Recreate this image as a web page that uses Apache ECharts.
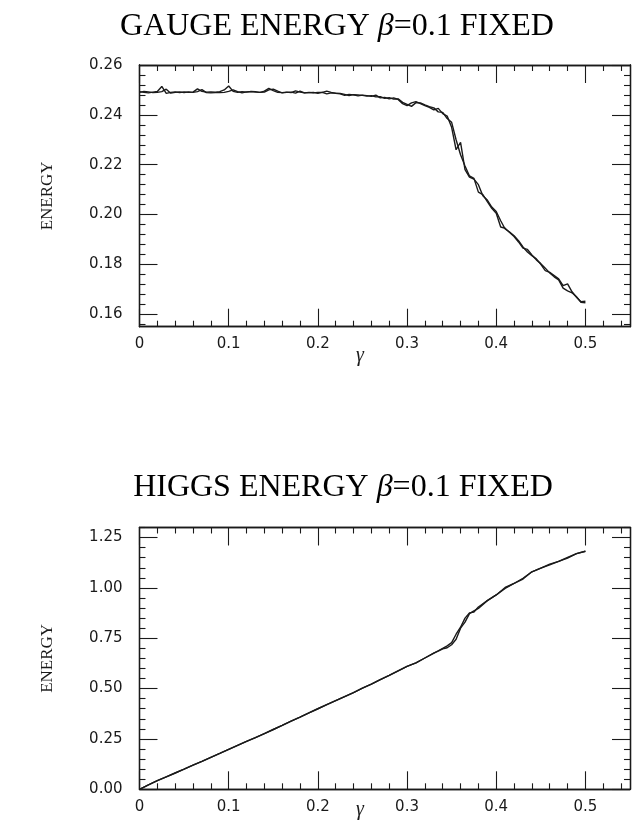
<!DOCTYPE html>
<html>
<head>
<meta charset="utf-8">
<script src="https://cdn.jsdelivr.net/npm/echarts@6/dist/echarts.min.js"></script>
<style>
  html, body { margin: 0; padding: 0; background: #fff; }
  #c { width: 635px; height: 836px; }
</style>
</head>
<body>
<div id="c"></div>
<script>
// ---- Gauge energy at beta = 0.1, two runs over gamma ----
const gaugeGamma = [
  0.000, 0.005, 0.010, 0.015, 0.020, 0.025, 0.030, 0.035, 0.040, 0.045,
  0.050, 0.055, 0.060, 0.065, 0.070, 0.075, 0.080, 0.085, 0.090, 0.095,
  0.100, 0.105, 0.110, 0.115, 0.120, 0.125, 0.130, 0.135, 0.140, 0.145,
  0.150, 0.155, 0.160, 0.165, 0.170, 0.175, 0.180, 0.185, 0.190, 0.195,
  0.200, 0.205, 0.210, 0.215, 0.220, 0.225, 0.230, 0.235, 0.240, 0.245,
  0.250, 0.255, 0.260, 0.265, 0.270, 0.275, 0.280, 0.285, 0.290, 0.295,
  0.300, 0.305, 0.310, 0.315, 0.320, 0.325, 0.330, 0.335, 0.340, 0.345,
  0.350, 0.355, 0.360, 0.365, 0.370, 0.375, 0.380, 0.385, 0.390, 0.395,
  0.400, 0.405, 0.410, 0.415, 0.420, 0.425, 0.430, 0.435, 0.440, 0.445,
  0.450, 0.455, 0.460, 0.465, 0.470, 0.475, 0.480, 0.485, 0.490, 0.495,
  0.500
];
const gaugeRunA = [
  0.2493, 0.2490, 0.2488, 0.2491, 0.2494, 0.2514, 0.2486, 0.2490, 0.2492, 0.2489,
  0.2492, 0.2490, 0.2491, 0.2504, 0.2494, 0.2491, 0.2492, 0.2491, 0.2493, 0.2500,
  0.2516, 0.2494, 0.2490, 0.2493, 0.2491, 0.2494, 0.2493, 0.2490, 0.2495, 0.2506,
  0.2497, 0.2490, 0.2489, 0.2491, 0.2489, 0.2496, 0.2491, 0.2488, 0.2490, 0.2488,
  0.2490, 0.2490, 0.2495, 0.2490, 0.2486, 0.2484, 0.2478, 0.2482, 0.2480, 0.2476,
  0.2479, 0.2477, 0.2474, 0.2479, 0.2468, 0.2470, 0.2464, 0.2468, 0.2462, 0.2445,
  0.2437, 0.2448, 0.2453, 0.2445, 0.2437, 0.2430, 0.2420, 0.2426, 0.2405, 0.2395,
  0.2350, 0.2260, 0.2290, 0.2180, 0.2150, 0.2142, 0.2120, 0.2075, 0.2058, 0.2030,
  0.2012, 0.1975, 0.1942, 0.1930, 0.1915, 0.1895, 0.1870, 0.1850, 0.1835, 0.1822,
  0.1800, 0.1775, 0.1768, 0.1755, 0.1742, 0.1715, 0.1722, 0.1690, 0.1668, 0.1650,
  0.1652
];
const gaugeRunB = [
  0.2490, 0.2494, 0.2492, 0.2489, 0.2490, 0.2493, 0.2503, 0.2487, 0.2490, 0.2492,
  0.2489, 0.2492, 0.2490, 0.2493, 0.2501, 0.2489, 0.2488, 0.2489, 0.2489, 0.2490,
  0.2494, 0.2500, 0.2493, 0.2488, 0.2492, 0.2493, 0.2491, 0.2490, 0.2491, 0.2500,
  0.2503, 0.2495, 0.2488, 0.2490, 0.2491, 0.2487, 0.2495, 0.2488, 0.2489, 0.2490,
  0.2486, 0.2490, 0.2484, 0.2488, 0.2487, 0.2486, 0.2482, 0.2477, 0.2481, 0.2480,
  0.2478, 0.2475, 0.2477, 0.2472, 0.2473, 0.2466, 0.2469, 0.2463, 0.2464, 0.2450,
  0.2442, 0.2434, 0.2449, 0.2448, 0.2440, 0.2433, 0.2428, 0.2412, 0.2410, 0.2385,
  0.2370, 0.2300, 0.2240, 0.2195, 0.2155, 0.2145, 0.2090, 0.2080, 0.2052, 0.2025,
  0.2005, 0.1950, 0.1945, 0.1928, 0.1912, 0.1890, 0.1865, 0.1860, 0.1838, 0.1818,
  0.1803, 0.1785, 0.1766, 0.1750, 0.1738, 0.1705, 0.1694, 0.1686, 0.1670, 0.1648,
  0.1646
];

// ---- Higgs energy at beta = 0.1, two runs over gamma ----
const higgsGamma = [
  0.00, 0.01, 0.02, 0.03, 0.04, 0.05, 0.06, 0.07, 0.08, 0.09,
  0.10, 0.11, 0.12, 0.13, 0.14, 0.15, 0.16, 0.17, 0.18, 0.19,
  0.20, 0.21, 0.22, 0.23, 0.24, 0.25, 0.26, 0.27, 0.28, 0.29,
  0.30, 0.31, 0.32, 0.33, 0.335, 0.34, 0.345, 0.35, 0.355, 0.36,
  0.365, 0.37, 0.375, 0.38, 0.39, 0.40, 0.41, 0.42, 0.43, 0.44,
  0.45, 0.46, 0.47, 0.48, 0.49, 0.50
];
const higgsRunA = [
  0.000, 0.022, 0.043, 0.062, 0.081, 0.100, 0.120, 0.139, 0.159, 0.178,
  0.198, 0.218, 0.238, 0.257, 0.277, 0.297, 0.317, 0.338, 0.358, 0.379,
  0.400, 0.420, 0.440, 0.460, 0.480, 0.502, 0.522, 0.545, 0.566, 0.588,
  0.610, 0.628, 0.652, 0.676, 0.688, 0.700, 0.712, 0.728, 0.770, 0.805,
  0.850, 0.876, 0.880, 0.905, 0.937, 0.965, 0.998, 1.022, 1.048, 1.080,
  1.098, 1.114, 1.132, 1.148, 1.170, 1.182
];
const higgsRunB = [
  0.000, 0.022, 0.043, 0.062, 0.081, 0.100, 0.120, 0.139, 0.159, 0.178,
  0.198, 0.218, 0.238, 0.257, 0.277, 0.297, 0.317, 0.338, 0.358, 0.379,
  0.400, 0.420, 0.440, 0.460, 0.480, 0.502, 0.522, 0.545, 0.566, 0.588,
  0.610, 0.628, 0.652, 0.676, 0.686, 0.697, 0.703, 0.718, 0.745, 0.800,
  0.830, 0.872, 0.886, 0.898, 0.937, 0.965, 1.002, 1.022, 1.044, 1.080,
  1.098, 1.118, 1.132, 1.152, 1.170, 1.182
];

// ---- Tick positions and labels ----
const gammaMajor = [0, 0.1, 0.2, 0.3, 0.4, 0.5];
const gammaMajorLabels = ['0', '0.1', '0.2', '0.3', '0.4', '0.5'];
const gammaMinor = [0.02, 0.04, 0.06, 0.08, 0.12, 0.14, 0.16, 0.18, 0.22, 0.24, 0.26, 0.28,
                    0.32, 0.34, 0.36, 0.38, 0.42, 0.44, 0.46, 0.48, 0.52, 0.54];

const gaugeMajor = [0.16, 0.18, 0.20, 0.22, 0.24, 0.26];
const gaugeMajorLabels = ['0.16', '0.18', '0.20', '0.22', '0.24', '0.26'];
const gaugeMinor = [0.156, 0.164, 0.168, 0.172, 0.176, 0.184, 0.188, 0.192, 0.196,
                    0.204, 0.208, 0.212, 0.216, 0.224, 0.228, 0.232, 0.236,
                    0.244, 0.248, 0.252, 0.256];

const higgsMajor = [0, 0.25, 0.5, 0.75, 1.0, 1.25];
const higgsMajorLabels = ['0.00', '0.25', '0.50', '0.75', '1.00', '1.25'];
const higgsMinor = [0.05, 0.10, 0.15, 0.20, 0.30, 0.35, 0.40, 0.45, 0.55, 0.60, 0.65, 0.70,
                    0.80, 0.85, 0.90, 0.95, 1.05, 1.10, 1.15, 1.20, 1.30];

// ---- Styling helpers ----
const INK = '#1a1a1a';
const LABEL_FONT = 'DejaVu Sans';
const SERIF = '"Liberation Serif", "DejaVu Serif", serif';

function labelFor(values, labels) {
  return function (v) {
    for (let i = 0; i < values.length; i++) {
      if (Math.abs(values[i] - v) < 1e-9) return labels[i];
    }
    return '';
  };
}

// A framed axis set: major ticks (long) and minor ticks (short) on both sides,
// all pointing into the plot. Order matters: ECharts assigns the second axis
// asking for an occupied side to the opposite side.
function axisSet(dim, gridIndex, min, max, major, majorLabels, minor, name, labelMargin) {
  const sides = dim === 'x' ? ['bottom', 'top'] : ['left', 'right'];
  const base = {
    type: 'value', gridIndex: gridIndex, min: min, max: max,
    splitLine: { show: false },
    axisLine: { show: true, onZero: false, lineStyle: { color: INK, width: 1.3 } }
  };
  const tick = (vals, len) => ({
    show: true, inside: true, length: len, customValues: vals,
    lineStyle: { color: INK, width: 1.1 }
  });
  const labelled = Object.assign({}, base, {
    position: sides[0],
    axisTick: tick(major, 18),
    axisLabel: {
      show: true, customValues: major, formatter: labelFor(major, majorLabels),
      margin: labelMargin, color: INK, fontFamily: LABEL_FONT, fontSize: 15
    }
  });
  if (name) {
    Object.assign(labelled, {
      name: name, nameLocation: 'middle', nameRotate: 90, nameGap: 83,
      nameTextStyle: { fontFamily: SERIF, fontSize: 17, color: INK }
    });
  }
  return [
    labelled,
    Object.assign({}, base, { position: sides[1], axisTick: tick(major, 18), axisLabel: { show: false } }),
    Object.assign({}, base, { position: sides[0], axisTick: tick(minor, 6), axisLabel: { show: false } }),
    Object.assign({}, base, { position: sides[1], axisTick: tick(minor, 6), axisLabel: { show: false } })
  ];
}

function runSeries(xs, ys, xIdx, yIdx) {
  return {
    type: 'line', xAxisIndex: xIdx, yAxisIndex: yIdx,
    data: xs.map((g, i) => [g, ys[i]]),
    showSymbol: false, symbol: 'none', smooth: false,
    lineStyle: { color: INK, width: 1.4 },
    silent: true
  };
}

const titleRich = {
  a: { fontFamily: SERIF, fontSize: 32, color: INK },
  b: { fontFamily: SERIF, fontSize: 32, fontStyle: 'italic', color: INK }
};

function titleText(text, cx, cy) {
  return {
    type: 'text', x: cx, y: cy,
    style: { text: text, rich: titleRich, align: 'center', verticalAlign: 'middle' }
  };
}

function gammaName(cx, cy) {
  return {
    type: 'text', x: cx, y: cy,
    style: { text: 'γ', fontFamily: SERIF, fontStyle: 'italic', fontSize: 20, fill: INK,
             align: 'center', verticalAlign: 'middle' }
  };
}

const chart = echarts.init(document.getElementById('c'), null, { renderer: 'canvas' });
chart.setOption({
  animation: false,
  backgroundColor: '#ffffff',
  grid: [
    { left: 139.5, right: 5, top: 65, bottom: 509.3 },
    { left: 139.5, right: 5, top: 527.5, bottom: 46.7 }
  ],
  xAxis: [].concat(
    axisSet('x', 0, 0, 0.55, gammaMajor, gammaMajorLabels, gammaMinor, null, 10),
    axisSet('x', 1, 0, 0.55, gammaMajor, gammaMajorLabels, gammaMinor, null, 10)
  ),
  yAxis: [].concat(
    axisSet('y', 0, 0.155, 0.26, gaugeMajor, gaugeMajorLabels, gaugeMinor, 'ENERGY', 17),
    axisSet('y', 1, 0, 1.3, higgsMajor, higgsMajorLabels, higgsMinor, 'ENERGY', 17)
  ),
  series: [
    runSeries(gaugeGamma, gaugeRunA, 0, 0),
    runSeries(gaugeGamma, gaugeRunB, 0, 0),
    runSeries(higgsGamma, higgsRunA, 4, 4),
    runSeries(higgsGamma, higgsRunB, 4, 4)
  ],
  graphic: [
    titleText('{a|GAUGE ENERGY }{b|β}{a|=0.1 FIXED}', 337, 27),
    titleText('{a|HIGGS ENERGY }{b|β}{a|=0.1 FIXED}', 343, 488),
    gammaName(360, 356),
    gammaName(360, 810)
  ]
});
</script>
</body>
</html>
